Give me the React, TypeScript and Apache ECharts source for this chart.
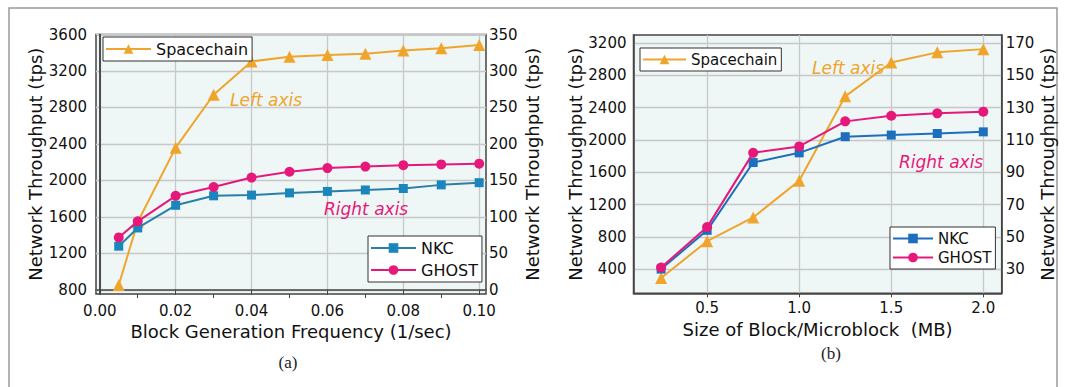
import React, { useEffect, useRef } from "react";
import * as echarts from "echarts";

// ---------- data ----------
const freqA = [0.005, 0.01, 0.02, 0.03, 0.04, 0.05, 0.06, 0.07, 0.08, 0.09, 0.1];
const spacechainA = [855, 1545, 2360, 2940, 3305, 3355, 3375, 3390, 3425, 3450, 3485];
const nkcA = [60, 85, 116, 129, 130, 133, 135, 137, 139, 144, 147];
const ghostA = [72, 94, 129, 141, 154, 162, 167, 169, 171, 172, 173];

const sizeB = [0.25, 0.5, 0.75, 1.0, 1.25, 1.5, 1.75, 2.0];
const spacechainB = [290, 745, 1040, 1495, 2540, 2960, 3085, 3125];
const nkcB = [30, 54, 96, 102, 112, 113, 114, 115];
const ghostB = [31, 56, 102, 106, 121.5, 125, 126.5, 127.5];

const ticksAX = [0, 0.02, 0.04, 0.06, 0.08, 0.1];
const minorTicksAX = [0.01, 0.03, 0.05, 0.07, 0.09];
const ticksALeft = [800, 1200, 1600, 2000, 2400, 2800, 3200, 3600];
const ticksARight = [0, 50, 100, 150, 200, 250, 300, 350];
const ticksBX = [0.5, 1.0, 1.5, 2.0];
const ticksBLeft = [400, 800, 1200, 1600, 2000, 2400, 2800, 3200];
const ticksBRight = [30, 50, 70, 90, 110, 130, 150, 170];

const xNameA = "Block Generation Frequency (1/sec)";
const xNameB = "Size of Block/Microblock  (MB)";
const yName = "Network Throughput (tps)";

// ---------- styles ----------
const FONT = "DejaVu Sans";
const ORANGE = "#EFA52B";
const PINK = "#E6197A";
const TEAL = "#2A7FA8";
const TEAL_M = "#1B86BC";
const BLUE = "#1D6FBE";
const GRIDC = "#c8c8c8";
const AXISC = "#444";

const pairs = (xs: number[], ys: number[]) => xs.map((x, i) => [x, ys[i]]);

const splitLine = { show: true, lineStyle: { color: GRIDC, width: 1.3 } };
const tickLabel = { fontSize: 15, color: "#111", fontFamily: FONT, formatter: (v: number) => String(v) };
const nameStyle = { fontSize: 18, color: "#111", fontFamily: FONT };

function legend(left: number, top: number, items: any[], gap: number, itemWidth: number, fontSize: number) {
  return {
    left,
    top,
    orient: "vertical",
    data: items,
    itemWidth,
    itemHeight: 12,
    itemGap: gap,
    padding: [4, 4, 4, 2],
    borderColor: "#333",
    borderWidth: 1,
    backgroundColor: "#fff",
    selectedMode: false,
    textStyle: { fontSize, color: "#111", fontFamily: FONT },
  };
}

export default function App() {
  const ref = useRef<HTMLDivElement>(null);
  useEffect(() => {
    if (!ref.current) return;
    const chart = echarts.init(ref.current, null, { renderer: "svg" });
    const option: any = {
      animation: false,
      backgroundColor: "#fff",
      grid: [
        { left: 96, top: 34.5, width: 390, height: 259.5, show: true, backgroundColor: "#eef6f6", borderColor: AXISC, borderWidth: 1.5 },
        { left: 633.5, top: 35, width: 368.2, height: 258.3, show: true, backgroundColor: "#eef6f6", borderColor: AXISC, borderWidth: 1.5 },
      ],
      xAxis: [
        {
          gridIndex: 0, type: "value", min: -0.001, max: 0.1018,
          axisLine: { show: true, lineStyle: { color: AXISC, width: 1.5 } },
          axisTick: { show: true, customValues: ticksAX, length: 5, lineStyle: { color: AXISC } },
          axisLabel: { ...tickLabel, customValues: ticksAX, margin: 9, formatter: (v: number) => v.toFixed(2) },
          splitLine,
          name: xNameA, nameLocation: "middle", nameGap: 28, nameTextStyle: nameStyle,
        },
        {
          gridIndex: 0, type: "value", min: -0.001, max: 0.1018, position: "bottom",
          axisLine: { show: false },
          axisTick: { show: true, customValues: minorTicksAX, length: 4, lineStyle: { color: AXISC } },
          axisLabel: { show: false },
          splitLine: { show: false },
        },
        {
          gridIndex: 1, type: "value", min: 0.1, max: 2.1,
          axisLine: { show: true, lineStyle: { color: AXISC, width: 1.5 } },
          axisTick: { show: true, customValues: ticksBX, length: 4, lineStyle: { color: AXISC } },
          axisLabel: { ...tickLabel, customValues: ticksBX, margin: 7, formatter: (v: number) => v.toFixed(1) },
          splitLine,
          name: xNameB, nameLocation: "middle", nameGap: 26, nameTextStyle: nameStyle,
        },
      ],
      yAxis: [
        {
          gridIndex: 0, type: "value", position: "left", min: 756, max: 3600,
          axisLine: { show: true, lineStyle: { color: AXISC, width: 1.5 } },
          axisTick: { show: false, customValues: ticksALeft },
          axisLabel: { ...tickLabel, customValues: ticksALeft, margin: 9 },
          splitLine,
          name: yName, nameLocation: "middle", nameRotate: 90, nameGap: 50, nameTextStyle: nameStyle,
        },
        {
          gridIndex: 0, type: "value", position: "right", min: -5.5, max: 350,
          axisLine: { show: true, lineStyle: { color: AXISC, width: 1.5 } },
          axisTick: { show: false, customValues: ticksARight },
          axisLabel: { ...tickLabel, customValues: ticksARight, margin: 3 },
          splitLine: { show: false },
          name: yName, nameLocation: "middle", nameRotate: 90, nameGap: 37, nameTextStyle: nameStyle,
        },
        {
          gridIndex: 1, type: "value", position: "left", min: 100, max: 3300,
          axisLine: { show: true, lineStyle: { color: AXISC, width: 1.5 } },
          axisTick: { show: false, customValues: ticksBLeft },
          axisLabel: { ...tickLabel, customValues: ticksBLeft, margin: 7 },
          splitLine,
          name: yName, nameLocation: "middle", nameRotate: 90, nameGap: 49, nameTextStyle: nameStyle,
        },
        {
          gridIndex: 1, type: "value", position: "right", min: 15, max: 175,
          axisLine: { show: true, lineStyle: { color: AXISC, width: 1.5 } },
          axisTick: { show: false, customValues: ticksBRight },
          axisLabel: { ...tickLabel, customValues: ticksBRight, margin: 4 },
          splitLine: { show: false },
          name: yName, nameLocation: "middle", nameRotate: 90, nameGap: 32, nameTextStyle: nameStyle,
        },
      ],
      legend: [
        legend(103, 37, [{ name: "Spacechain" }], 4, 45, 16),
        legend(368, 236, [{ name: "NKC" }, { name: "GHOST" }], 6, 45, 16),
        legend(640, 48, [{ name: "Spacechain" }], 4, 43, 15),
        legend(890, 227, [
          { name: "NKC", itemStyle: { color: BLUE }, lineStyle: { color: BLUE } },
          { name: "GHOST" },
        ], 4, 40, 15),
      ],
      series: [
        { name: "Spacechain", type: "line", xAxisIndex: 0, yAxisIndex: 0, data: pairs(freqA, spacechainA), symbol: "triangle", symbolSize: 12, lineStyle: { color: ORANGE, width: 2 }, itemStyle: { color: ORANGE }, z: 3 },
        { name: "NKC", type: "line", xAxisIndex: 0, yAxisIndex: 1, data: pairs(freqA, nkcA), symbol: "rect", symbolSize: 9, lineStyle: { color: TEAL, width: 2 }, itemStyle: { color: TEAL_M }, z: 4 },
        { name: "GHOST", type: "line", xAxisIndex: 0, yAxisIndex: 1, data: pairs(freqA, ghostA), symbol: "circle", symbolSize: 10, lineStyle: { color: PINK, width: 2 }, itemStyle: { color: PINK }, z: 5 },
        { name: "Spacechain", type: "line", xAxisIndex: 2, yAxisIndex: 2, data: pairs(sizeB, spacechainB), symbol: "triangle", symbolSize: 12, lineStyle: { color: ORANGE, width: 2 }, itemStyle: { color: ORANGE }, z: 3 },
        { name: "NKC", type: "line", xAxisIndex: 2, yAxisIndex: 3, data: pairs(sizeB, nkcB), symbol: "rect", symbolSize: 9, lineStyle: { color: BLUE, width: 2 }, itemStyle: { color: BLUE }, z: 4 },
        { name: "GHOST", type: "line", xAxisIndex: 2, yAxisIndex: 3, data: pairs(sizeB, ghostB), symbol: "circle", symbolSize: 10, lineStyle: { color: PINK, width: 2 }, itemStyle: { color: PINK }, z: 5 },
      ],
      graphic: [
        { type: "rect", shape: { x: 9, y: 8, width: 1048, height: 420 }, style: { fill: "none", stroke: "#9a9a9a", lineWidth: 1.5 }, silent: true, z: -1 },
        { type: "text", x: 230, y: 100, style: { text: "Left axis", fill: ORANGE, font: `italic 17px "${FONT}"`, textVerticalAlign: "middle" }, z: 10 },
        { type: "text", x: 324, y: 209, style: { text: "Right axis", fill: PINK, font: `italic 17px "${FONT}"`, textVerticalAlign: "middle" }, z: 10 },
        { type: "text", x: 812, y: 68, style: { text: "Left axis", fill: ORANGE, font: `italic 17px "${FONT}"`, textVerticalAlign: "middle" }, z: 10 },
        { type: "text", x: 899, y: 162, style: { text: "Right axis", fill: PINK, font: `italic 17px "${FONT}"`, textVerticalAlign: "middle" }, z: 10 },
        { type: "text", x: 288, y: 362, style: { text: "(a)", fill: "#222", font: `17px "Liberation Serif"`, textAlign: "center", textVerticalAlign: "middle" }, z: 10 },
        { type: "text", x: 831, y: 353, style: { text: "(b)", fill: "#222", font: `17px "Liberation Serif"`, textAlign: "center", textVerticalAlign: "middle" }, z: 10 },
      ],
    };
    chart.setOption(option);
    return () => chart.dispose();
  }, []);
  return (
    <div
      ref={ref}
      style={{ position: "absolute", left: 0, top: 0, width: 1078, height: 387, background: "#fff" }}
    />
  );
}
